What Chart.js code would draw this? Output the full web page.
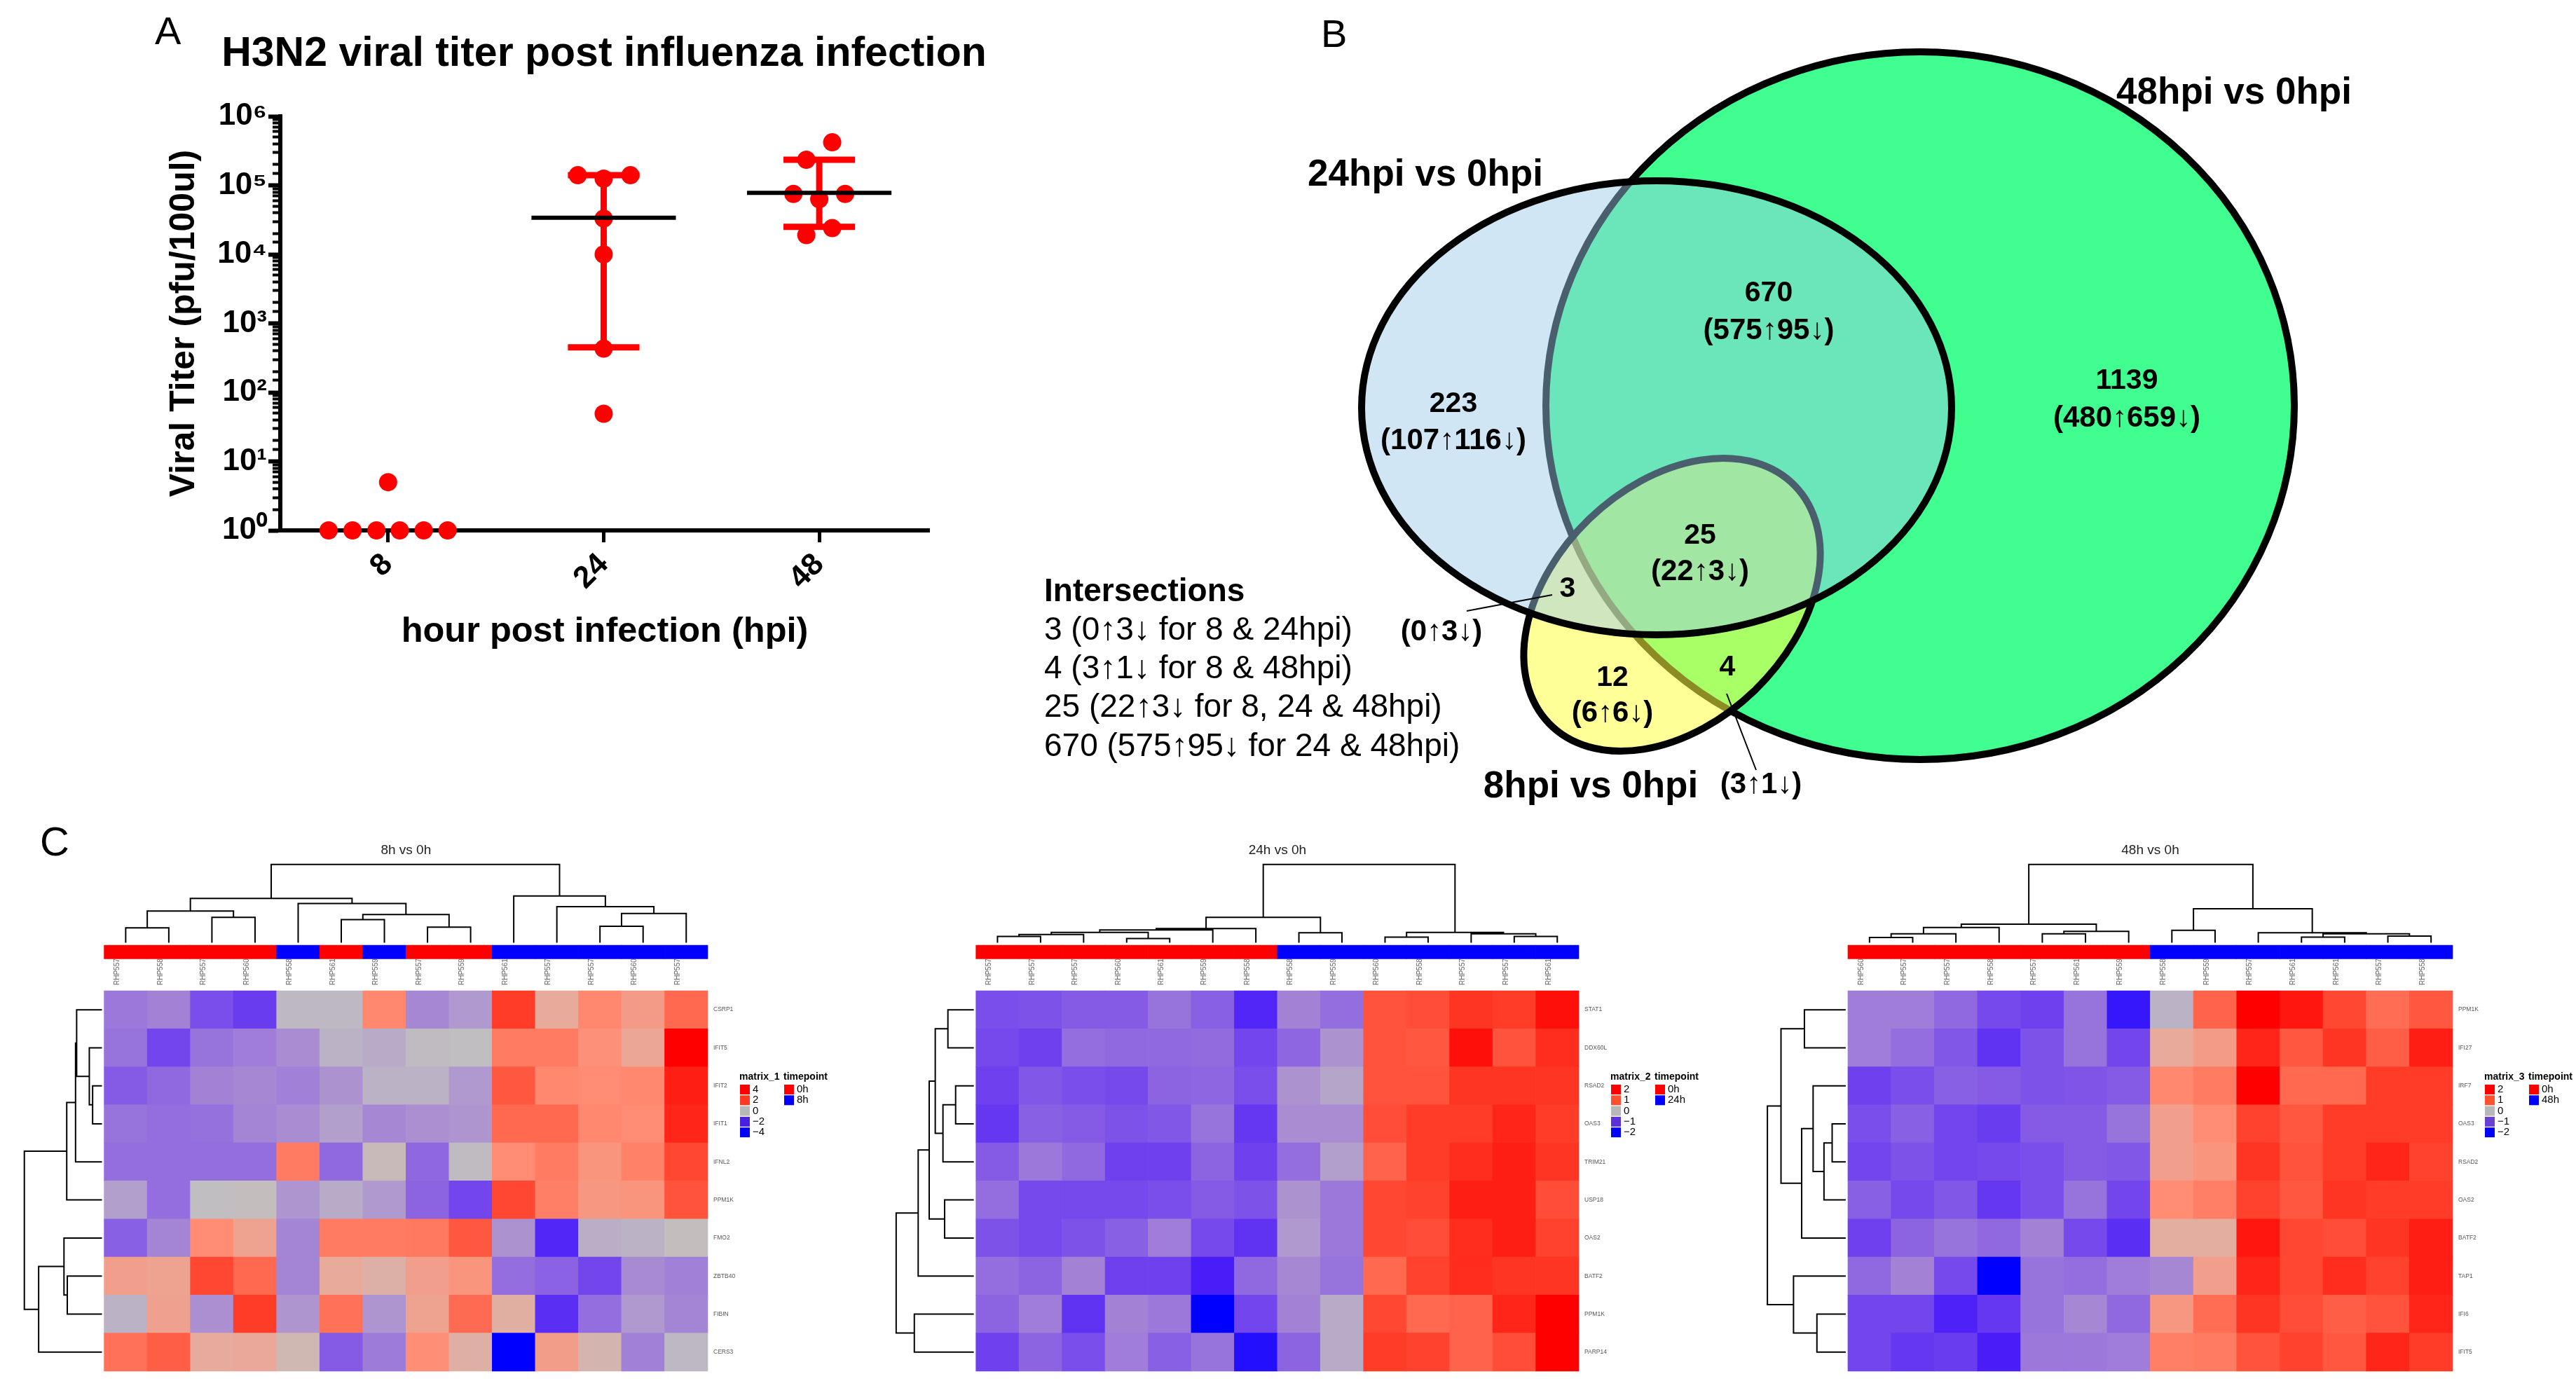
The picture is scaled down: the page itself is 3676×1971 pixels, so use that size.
<!DOCTYPE html>
<html>
<head>
<meta charset="utf-8">
<title>H3N2 figure</title>
<script src="https://cdn.jsdelivr.net/npm/chart.js@4"></script>
<style>
  html, body { margin: 0; background: #fff; }
  body { position: relative; width: 3676px; height: 1971px; overflow: hidden; }
  canvas { position: absolute; }
</style>
</head>
<body>
<canvas id="titerChart" style="left:0;top:0" width="1500" height="960"></canvas>
<canvas id="vennChart" style="left:1450px;top:0" width="2226" height="1170"></canvas>
<canvas id="heat8" style="left:0;top:1170px" width="1230" height="800"></canvas>
<canvas id="heat24" style="left:1230px;top:1170px" width="1230" height="800"></canvas>
<canvas id="heat48" style="left:2460px;top:1170px" width="1216" height="800"></canvas>
<script>
// Panel A data
const hourLabels = ['8', '24', '48'];
const dotGroup = [1, 1, 1, 1, 1, 1, 1, 2, 2, 2, 2, 2, 2, 2, 3, 3, 3, 3, 3, 3, 3];
const dotJitter = [-0.276, -0.165, -0.054, 0.054, 0.165, 0.276, 0, -0.12, 0.124, 0, 0, 0, 0, 0, 0.06, -0.06, -0.12, 0.12, 0, 0.06, -0.06];
const dotTiter = [1, 1, 1, 1, 1, 1, 5, 140000, 140000, 125000, 33000, 10000, 430, 49, 420000, 235000, 75000, 75000, 63000, 24000, 19000];
const meanTiter = [null, 34000, 78000];
const upperTiter = [null, 140000, 235000];
const lowerTiter = [null, 450, 25000];

// Panel B data
const vennCounts = ['1139', '670', '223', '25', '3', '12', '4'];
const vennUpDown = ['(480↑659↓)', '(575↑95↓)', '(107↑116↓)', '(22↑3↓)', '(0↑3↓)', '(6↑6↓)', '(3↑1↓)'];
const vennSetNames = ['48hpi vs 0hpi', '24hpi vs 0hpi', '8hpi vs 0hpi'];
const intersectionLines = ['3 (0↑3↓ for 8 & 24hpi)', '4 (3↑1↓ for 8 & 48hpi)', '25 (22↑3↓ for 8, 24 & 48hpi)', '670 (575↑95↓ for 24 & 48hpi)'];

// Panel C data
const samples8 = ['RHP5574', 'RHP5586', 'RHP5578', 'RHP5606', 'RHP5587', 'RHP5612', 'RHP5595', 'RHP5570', 'RHP5594', 'RHP5613', 'RHP5575', 'RHP5579', 'RHP5607', 'RHP5571'];
const genes8 = ['CSRP1', 'IFIT5', 'IFIT2', 'IFIT1', 'IFNL2', 'PPM1K', 'FMO2', 'ZBTB40', 'FIBIN', 'CERS3'];
const groups8 = [0, 0, 0, 0, 1, 0, 1, 0, 0, 1, 1, 1, 1, 1];
const values8 = [
  [-1.2, -1.0, -2.1, -2.5, -0.1, -0.1, 1.7, -0.9, -0.6, 3.2, 0.8, 1.7, 1.2, 2.4],
  [-1.3, -2.3, -1.3, -1.1, -0.8, -0.2, -0.3, -0.05, 0, 2.0, 2.0, 1.5, 0.9, 4],
  [-1.8, -1.5, -1.0, -0.9, -1.05, -0.7, -0.2, -0.2, -0.6, 2.7, 1.7, 1.6, 1.7, 3.6],
  [-1.3, -1.4, -1.35, -0.95, -0.8, -0.5, -0.9, -0.75, -0.65, 2.4, 2.4, 1.7, 1.6, 3.5],
  [-1.4, -1.4, -1.4, -1.4, 2.0, -1.5, 0.15, -1.55, -0.05, 1.6, 2.0, 1.4, 1.85, 3.0],
  [-0.5, -1.4, 0, 0.05, -0.65, -0.3, -0.6, -1.6, -2.3, 3.0, 1.9, 1.3, 1.4, 2.8],
  [-1.7, -0.95, 1.6, 1.0, -0.95, 2.0, 2.0, 2.05, 2.7, -0.7, -3.0, -0.25, -0.2, 0.05],
  [1.1, 1.0, 3.0, 2.4, -0.95, 0.8, 0.55, 1.1, 1.4, -1.4, -1.65, -2.3, -0.85, -1.05],
  [-0.2, 1.05, -0.75, 3.2, -0.65, 2.2, -0.65, 1.0, 2.35, 0.65, -2.8, -1.4, -0.6, -0.95],
  [2.2, 2.6, 0.75, 0.85, 0.3, -1.8, -1.15, 1.55, 0.6, -4, 1.15, 0.4, -1.05, -0.1]
];
const colMerge8 = [[-1, -2], [-3, -4], [1, 2], [-8, -9], [-6, -7], [5, 4], [-5, 6], [3, 7], [-12, -13], [9, -14], [-11, 10], [-10, 11], [8, 12]];
const colHeight8 = [42, 71, 89, 44, 65, 79, 110, 124, 46, 82, 101, 131, 219];
const rowMerge8 = [[-3, -4], [-2, 1], [-1, 2], [3, -5], [4, -6], [-8, -9], [-7, 6], [7, -10], [5, 8]];
const rowHeight8 = [17, 23, 46, 48, 64, 63, 69, 115, 141];

const samples24 = ['RHP5574', 'RHP5578', 'RHP5570', 'RHP5606', 'RHP5612', 'RHP5594', 'RHP5586', 'RHP5588', 'RHP5597', 'RHP5609', 'RHP5580', 'RHP5572', 'RHP5576', 'RHP5615'];
const genes24 = ['STAT1', 'DDX60L', 'RSAD2', 'OAS3', 'TRIM21', 'USP18', 'OAS2', 'BATF2', 'PPM1K', 'PARP14'];
const groups24 = [0, 0, 0, 0, 0, 0, 0, 1, 1, 1, 1, 1, 1, 1];
const values24 = [
  [-1.05, -1.0, -0.9, -0.9, -0.65, -0.85, -1.5, -0.5, -0.7, 1.4, 1.45, 1.65, 1.6, 1.9],
  [-1.1, -1.2, -0.7, -0.75, -0.75, -0.72, -1.15, -0.78, -0.35, 1.4, 1.35, 1.9, 1.4, 1.7],
  [-1.2, -0.95, -1.05, -1.1, -0.8, -0.78, -1.05, -0.35, -0.2, 1.4, 1.4, 1.65, 1.65, 1.65],
  [-1.3, -0.85, -0.9, -1.0, -0.95, -0.65, -1.3, -0.4, -0.4, 1.45, 1.6, 1.6, 1.75, 1.6],
  [-0.9, -0.6, -0.75, -1.2, -1.2, -0.8, -1.2, -0.7, -0.25, 1.25, 1.6, 1.7, 1.8, 1.65],
  [-0.7, -1.1, -1.1, -1.1, -1.05, -0.9, -1.0, -0.35, -0.6, 1.5, 1.55, 1.8, 1.8, 1.45],
  [-1.0, -1.1, -1.0, -0.85, -0.55, -1.1, -1.35, -0.3, -0.6, 1.5, 1.45, 1.7, 1.8, 1.55],
  [-0.7, -0.8, -0.5, -1.2, -1.2, -1.6, -0.75, -0.45, -0.65, 1.2, 1.55, 1.7, 1.65, 1.65],
  [-0.8, -0.55, -1.35, -0.5, -0.6, -2, -1.15, -0.5, -0.15, 1.5, 1.2, 1.25, 1.75, 2],
  [-1.2, -0.8, -1.05, -0.55, -0.85, -0.65, -1.8, -0.8, -0.15, 1.6, 1.55, 1.25, 1.45, 2]
];
const colMerge24 = [[-1, -2], [1, -3], [-4, -5], [2, 3], [4, -6], [5, -7], [-8, -9], [6, 7], [-10, -11], [-13, -14], [-12, 10], [9, 11], [8, 12]];
const colHeight24 = [18, 23, 12, 29, 36, 40, 28, 71, 16, 18, 25, 29, 219];
const rowMerge24 = [[-1, -2], [-3, -4], [2, -5], [1, 3], [-6, -7], [4, 5], [6, -8], [-9, -10], [7, 8]];
const rowHeight24 = [47, 33, 56, 70, 53, 81, 101, 108, 141];

const samples48 = ['RHP5606', 'RHP5578', 'RHP5574', 'RHP5586', 'RHP5570', 'RHP5612', 'RHP5594', 'RHP5589', 'RHP5598', 'RHP5577', 'RHP5616', 'RHP5610', 'RHP5573', 'RHP5581'];
const genes48 = ['PPM1K', 'IFI27', 'IRF7', 'OAS3', 'RSAD2', 'OAS2', 'BATF2', 'TAP1', 'IFI6', 'IFIT5'];
const groups48 = [0, 0, 0, 0, 0, 0, 0, 1, 1, 1, 1, 1, 1, 1];
const values48 = [
  [-0.55, -0.55, -0.75, -1.1, -1.2, -0.65, -1.7, -0.1, 1.25, 2, 1.85, 1.5, 1.15, 1.35],
  [-0.55, -0.7, -0.95, -1.35, -1.0, -0.65, -1.15, 0.4, 0.6, 1.75, 1.35, 1.65, 1.3, 1.8],
  [-1.2, -1.05, -0.85, -0.9, -1.0, -0.98, -0.9, 0.85, 1.0, 2, 1.2, 1.2, 1.6, 1.6],
  [-1.05, -0.85, -1.15, -1.25, -0.9, -0.9, -0.65, 0.55, 0.8, 1.55, 1.35, 1.6, 1.6, 1.6],
  [-1.15, -1.0, -1.15, -1.1, -1.05, -0.9, -0.95, 0.55, 0.7, 1.65, 1.4, 1.6, 1.75, 1.55],
  [-0.85, -1.1, -0.95, -1.3, -1.05, -0.65, -1.15, 0.8, 0.95, 1.55, 1.35, 1.65, 1.6, 1.6],
  [-1.2, -0.8, -0.65, -0.75, -0.5, -1.1, -1.4, 0.35, 0.35, 1.85, 1.5, 1.45, 1.65, 1.8],
  [-0.75, -0.5, -1.1, -2, -0.65, -0.7, -0.55, -0.45, 0.55, 1.75, 1.5, 1.7, 1.55, 1.8],
  [-1.15, -1.15, -1.55, -1.3, -0.65, -0.45, -0.75, 0.65, 1.15, 1.65, 1.45, 1.3, 1.4, 1.75],
  [-1.15, -1.3, -1.25, -1.6, -0.6, -0.6, -0.55, 0.95, 1.0, 1.4, 1.55, 1.35, 1.75, 1.6]
];
const colMerge48 = [[-1, -2], [1, -3], [2, -4], [-5, -6], [4, -7], [3, 5], [-8, -9], [-11, -12], [-13, -14], [8, 9], [-10, 10], [7, 11], [6, 12]];
const colHeight48 = [15, 25, 43, 25, 32, 52, 35, 16, 19, 25, 28, 95, 219];
const rowMerge48 = [[-1, -2], [-4, -5], [2, -6], [-3, 3], [4, -7], [1, 5], [-9, -10], [-8, 7], [6, 8]];
const rowHeight48 = [76, 25, 40, 60, 81, 119, 53, 96, 144];

const FONT = '"Liberation Sans", Arial, sans-serif';
Chart.defaults.font.family = FONT;
Chart.defaults.animation = false;
Chart.defaults.color = '#000';

// Free text and small swatches on top of a chart
function notesPlugin(getItems) {
    return {
        id: 'notes',
        afterDraw(chart) {
            const ctx = chart.ctx;
            ctx.save();
            ctx.textBaseline = 'middle';
            getItems(chart).forEach(item => {
                if (item.swatch) {
                    ctx.fillStyle = item.swatch;
                    ctx.fillRect(item.x, item.y, item.w, item.h);
                    return;
                }
                ctx.font = item.font;
                ctx.fillStyle = item.color || '#000';
                ctx.textAlign = item.align || 'left';
                ctx.fillText(item.text, item.x, item.y);
            });
            ctx.restore();
        }
    };
}

// ---- Panel A ----
const dotPoints = dotTiter.map((v, i) => ({ x: dotGroup[i] + dotJitter[i], y: v }));
const meanPoints = [];
const errorPoints = [];
meanTiter.forEach((m, i) => {
    if (m === null) return;
    const x = i + 1;
    meanPoints.push({ x: x - 0.335, y: m }, { x: x + 0.335, y: m }, { x: null, y: null });
    errorPoints.push(
        { x: x - 0.166, y: upperTiter[i] }, { x: x + 0.166, y: upperTiter[i] }, { x: null, y: null },
        { x: x, y: upperTiter[i] }, { x: x, y: lowerTiter[i] }, { x: null, y: null },
        { x: x - 0.166, y: lowerTiter[i] }, { x: x + 0.166, y: lowerTiter[i] }, { x: null, y: null }
    );
});

const supDigits = ['⁰', '¹', '²', '³', '⁴', '⁵', '⁶'];

new Chart(document.getElementById('titerChart'), {
    type: 'scatter',
    data: {
        datasets: [
            { data: meanPoints, showLine: true, borderColor: '#000', borderWidth: 6, pointRadius: 0, clip: false },
            { data: dotPoints, backgroundColor: '#ff0000', borderWidth: 0, pointRadius: 13, clip: false },
            { data: errorPoints, showLine: true, borderColor: '#ff0000', borderWidth: 9, pointRadius: 0, clip: false }
        ]
    },
    options: {
        responsive: false,
        devicePixelRatio: 1,
        layout: { padding: { left: 230, right: 174, top: 166, bottom: 0 } },
        plugins: {
            legend: { display: false },
            tooltip: { enabled: false }
        },
        scales: {
            x: {
                type: 'linear',
                min: 0.5,
                max: 3.51,
                z: 1,
                afterBuildTicks: s => { s.ticks = hourLabels.map((l, i) => ({ value: i + 1 })); },
                afterFit: s => { s.height = 203; },
                border: { width: 6, color: '#000' },
                grid: { drawOnChartArea: false, tickLength: 17, tickWidth: 5, tickColor: '#000' },
                ticks: {
                    callback: (v, i) => hourLabels[i],
                    font: { size: 44, weight: 'bold' },
                    minRotation: 45,
                    maxRotation: 45,
                    padding: 6
                },
                title: {
                    display: true,
                    text: 'hour post infection (hpi)',
                    font: { size: 50.5, weight: 'bold' },
                    padding: { top: 0, bottom: 28 }
                }
            },
            y: {
                type: 'logarithmic',
                position: 'left',
                min: 1,
                max: 1000000,
                z: 1,
                afterBuildTicks: s => { s.ticks = supDigits.map((d, i) => ({ value: Math.pow(10, i) })); },
                afterFit: s => { s.width = 170; },
                border: { width: 6, color: '#000' },
                grid: { drawOnChartArea: false, tickLength: 17, tickWidth: 6, tickColor: '#000' },
                ticks: {
                    callback: (v, i) => '10' + supDigits[i],
                    font: { size: 44, weight: 'bold' },
                    padding: 2
                },
                title: {
                    display: true,
                    text: 'Viral Titer (pfu/100ul)',
                    font: { size: 50, weight: 'bold' },
                    padding: { top: 3, bottom: 0 }
                }
            },
            // minor decade ticks are shorter, so they get their own axis
            yMinor: {
                type: 'logarithmic',
                position: 'left',
                weight: -1,
                min: 1,
                max: 1000000,
                afterBuildTicks: s => {
                    s.ticks = s.ticks.filter(t => Math.abs(Math.log10(t.value) - Math.round(Math.log10(t.value))) > 0.001);
                },
                afterFit: s => { s.width = 0; },
                border: { display: false },
                grid: { drawOnChartArea: false, tickLength: 11, tickWidth: 4, tickColor: '#000' },
                ticks: { display: false, autoSkip: false, callback: () => '' }
            }
        }
    },
    // title is wider than the plot, the title plugin would squeeze it
    plugins: [notesPlugin(() => [
        { text: 'A', x: 221, y: 48, font: '56px ' + FONT },
        { text: 'H3N2 viral titer post influenza infection', x: 862, y: 78, align: 'center', font: 'bold 59px ' + FONT }
    ])]
});

// ---- Panel B ----
// pixel-like scale so the figure keeps the reference's proportions
const vennEllipses = [
    { cx: 1290, cy: 579, rx: 534, ry: 505, rot: 0, fill: 'rgb(64,255,144)' },
    { cx: 936, cy: 863, rx: 244, ry: 170, rot: -44, fill: 'rgba(255,255,68,0.55)' },
    { cx: 914, cy: 582, rx: 421, ry: 324, rot: 0, fill: 'rgba(155,202,234,0.47)' }
];
const vennAnchors = [
    { x: 1585, y: 544 }, { x: 1074, y: 419 }, { x: 624, y: 577 }, { x: 976, y: 765 },
    { x: 787, y: 841 }, { x: 851, y: 968 }, { x: 1015, y: 953 }
];
const updownAnchors = [
    { x: 1585, y: 597 }, { x: 1074, y: 472 }, { x: 624, y: 629 }, { x: 976, y: 816 },
    { x: 607, y: 902 }, { x: 851, y: 1018 }, { x: 1063, y: 1120 }
];
const setNameAnchors = [{ x: 1738, y: 133 }, { x: 584, y: 250 }, { x: 820, y: 1123 }];

const vennShapes = {
    id: 'vennShapes',
    beforeDatasetsDraw(chart) {
        const { ctx, scales: { x, y } } = chart;
        vennEllipses.forEach(e => {
            ctx.beginPath();
            ctx.ellipse(x.getPixelForValue(e.cx), y.getPixelForValue(e.cy), e.rx, e.ry, e.rot * Math.PI / 180, 0, Math.PI * 2);
            ctx.fillStyle = e.fill;
            ctx.fill();
            ctx.lineWidth = 10;
            ctx.strokeStyle = '#000';
            ctx.stroke();
        });
    }
};

new Chart(document.getElementById('vennChart'), {
    type: 'scatter',
    data: {
        datasets: [
            { data: vennAnchors, pointRadius: 0 },
            { data: [{ x: 765, y: 849 }, { x: 643, y: 872 }], showLine: true, borderColor: '#000', borderWidth: 2, pointRadius: 0 },
            { data: [{ x: 1014, y: 990 }, { x: 1056, y: 1099 }], showLine: true, borderColor: '#000', borderWidth: 2, pointRadius: 0 }
        ]
    },
    options: {
        responsive: false,
        devicePixelRatio: 1,
        layout: { padding: 0 },
        plugins: { legend: { display: false }, tooltip: { enabled: false } },
        scales: {
            x: { type: 'linear', display: false, min: 0, max: 2226 },
            y: { type: 'linear', display: false, min: 0, max: 1170, reverse: true }
        }
    },
    plugins: [vennShapes, notesPlugin(chart => {
        const { x, y } = chart.scales;
        const items = [{ text: 'B', x: 435, y: 52, font: '56px ' + FONT }];
        vennCounts.forEach((t, i) => items.push({ text: t, x: x.getPixelForValue(vennAnchors[i].x), y: y.getPixelForValue(vennAnchors[i].y), align: 'center', font: 'bold 41px ' + FONT }));
        vennUpDown.forEach((t, i) => items.push({ text: t, x: x.getPixelForValue(updownAnchors[i].x), y: y.getPixelForValue(updownAnchors[i].y), align: 'center', font: 'bold 42px ' + FONT }));
        vennSetNames.forEach((t, i) => items.push({ text: t, x: x.getPixelForValue(setNameAnchors[i].x), y: y.getPixelForValue(setNameAnchors[i].y), align: 'center', font: 'bold 53px ' + FONT }));
        items.push({ text: 'Intersections', x: 40, y: 845, font: 'bold 46px ' + FONT });
        intersectionLines.forEach((t, i) => items.push({ text: t, x: 40, y: 900 + i * 55.3, font: '46px ' + FONT }));
        return items;
    })]
});

// ---- Panel C ----
const colorStops = [
    [-1, 0, 0, 255], [-0.8, 72, 29, 248], [-0.6, 110, 64, 238], [-0.4, 140, 100, 226], [-0.2, 170, 140, 210],
    [0, 192, 190, 192], [0.2, 232, 170, 155], [0.4, 255, 140, 115], [0.6, 255, 105, 80], [0.8, 255, 60, 40], [1, 255, 0, 0]
];
function heatColor(value, limit) {
    const t = Math.max(-1, Math.min(1, value / limit));
    let i = 0;
    while (i < colorStops.length - 2 && t > colorStops[i + 1][0]) i++;
    const a = colorStops[i], b = colorStops[i + 1];
    const f = (t - a[0]) / (b[0] - a[0]);
    return `rgb(${[1, 2, 3].map(k => Math.round(a[k] + (b[k] - a[k]) * f)).join(',')})`;
}

// merge/height lists work like hclust: negative = leaf, positive = earlier merge
function treeLines(merge, heights, toPoint) {
    const pos = [];
    const out = [];
    merge.forEach(([a, b], i) => {
        const pa = a < 0 ? -a - 1 : pos[a - 1];
        const pb = b < 0 ? -b - 1 : pos[b - 1];
        const ha = a < 0 ? 0 : heights[a - 1];
        const hb = b < 0 ? 0 : heights[b - 1];
        out.push(toPoint(pa, ha), toPoint(pa, heights[i]), toPoint(pb, heights[i]), toPoint(pb, hb), { x: null, y: null });
        pos[i] = (pa + pb) / 2;
    });
    return out;
}

function heatPanel(id, cfg) {
    const cells = [];
    const cellColors = [];
    cfg.values.forEach((row, r) => row.forEach((v, c) => {
        cells.push({ x: c, y: [r, r + 1] });
        cellColors.push(heatColor(v, cfg.limit));
    }));
    const annoCells = cfg.groups.map((g, c) => ({ x: c, y: [-1.195, -0.84] }));
    const annoColors = cfg.groups.map(g => (g === 0 ? '#ff0000' : '#0000ff'));
    const treeStyle = { type: 'scatter', showLine: true, borderColor: '#000', borderWidth: 2, pointRadius: 0, clip: false };
    const barStyle = { grouped: false, barPercentage: 1, categoryPercentage: 1, borderWidth: 0, clip: false };

    new Chart(document.getElementById(id), {
        type: 'bar',
        data: {
            datasets: [
                { data: cells, backgroundColor: cellColors, ...barStyle },
                { data: annoCells, backgroundColor: annoColors, ...barStyle },
                { data: treeLines(cfg.colMerge, cfg.colHeight, (p, h) => ({ x: p, y: -1.26 - h / 106.4 })), ...treeStyle },
                { data: treeLines(cfg.rowMerge, cfg.rowHeight, (p, d) => ({ x: -0.55 - d / cfg.colZoom, y: p + 0.5 })), ...treeStyle }
            ]
        },
        options: {
            responsive: false,
            devicePixelRatio: 1,
            layout: { padding: { left: cfg.left, right: cfg.right - 70, top: 0, bottom: 12.4 } },
            plugins: {
                legend: { display: false },
                tooltip: { enabled: false },
                title: {
                    display: true,
                    fullSize: false,
                    text: cfg.title,
                    color: '#222',
                    font: { size: 19, weight: 'normal' },
                    padding: { top: 32.6, bottom: 138.6 }
                }
            },
            scales: {
                x: {
                    type: 'linear',
                    position: 'top',
                    offset: false,
                    bounds: 'data',
                    min: -0.5,
                    max: 13.5,
                    afterBuildTicks: s => { s.ticks = cfg.samples.map((n, i) => ({ value: i })); },
                    afterFit: s => { s.height = 50; },
                    grid: { display: false, drawTicks: false },
                    border: { display: false },
                    ticks: {
                        autoSkip: false,
                        callback: (v, i) => cfg.samples[i],
                        color: '#666',
                        font: { size: 10 },
                        minRotation: 90,
                        maxRotation: 90,
                        padding: 8
                    }
                },
                y: {
                    type: 'linear',
                    position: 'right',
                    reverse: true,
                    bounds: 'data',
                    min: 0,
                    max: 10,
                    afterBuildTicks: s => { s.ticks = cfg.genes.map((n, i) => ({ value: i + 0.5 })); },
                    afterFit: s => { s.width = 70; },
                    grid: { display: false, drawTicks: false },
                    border: { display: false },
                    ticks: {
                        autoSkip: false,
                        callback: (v, i) => cfg.genes[i],
                        color: '#555',
                        font: { size: 8.5 },
                        padding: 8
                    }
                }
            }
        },
        plugins: [notesPlugin(chart => {
            const right = chart.chartArea.right;
            const top = 378;
            const items = cfg.letter ? [{ text: cfg.letter, x: 57, y: 35, font: '58px ' + FONT }] : [];
            items.push({ text: cfg.matrixName, x: right + 45, y: 367, font: 'bold 14px ' + FONT });
            items.push({ text: 'timepoint', x: right + 108, y: 367, font: 'bold 14px ' + FONT });
            cfg.legendValues.forEach((v, i) => {
                items.push({ swatch: cfg.legendColors[i], x: right + 46, y: top + i * 15.3, w: 14, h: 14 });
                items.push({ text: v, x: right + 64, y: top + 7 + i * 15.3, font: '15px ' + FONT });
            });
            ['0h', cfg.timeLabel].forEach((t, i) => {
                items.push({ swatch: i === 0 ? '#ff0000' : '#0000ff', x: right + 109, y: top + i * 15.3, w: 14, h: 14 });
                items.push({ text: t, x: right + 127, y: top + 7 + i * 15.3, font: '15px ' + FONT });
            });
            return items;
        })]
    });
}

heatPanel('heat8', {
    title: '8h vs 0h', letter: 'C', matrixName: 'matrix_1', timeLabel: '8h', limit: 4,
    left: 148.6, right: 220, colZoom: 78.3,
    samples: samples8, genes: genes8, groups: groups8, values: values8,
    colMerge: colMerge8, colHeight: colHeight8, rowMerge: rowMerge8, rowHeight: rowHeight8,
    legendValues: ['4', '2', '0', '−2', '−4'],
    legendColors: ['#ff0000', '#ff3a1e', '#b8b8b8', '#4a20e0', '#0000ff']
});
heatPanel('heat24', {
    title: '24h vs 0h', matrixName: 'matrix_2', timeLabel: '24h', limit: 2,
    left: 162.7, right: 207, colZoom: 78.2,
    samples: samples24, genes: genes24, groups: groups24, values: values24,
    colMerge: colMerge24, colHeight: colHeight24, rowMerge: rowMerge24, rowHeight: rowHeight24,
    legendValues: ['2', '1', '0', '−1', '−2'],
    legendColors: ['#ff0000', '#ff5030', '#b8b8b8', '#5a30d8', '#0000ff']
});
heatPanel('heat48', {
    title: '48h vs 0h', matrixName: 'matrix_3', timeLabel: '48h', limit: 2,
    left: 177, right: 176, colZoom: 79.4,
    samples: samples48, genes: genes48, groups: groups48, values: values48,
    colMerge: colMerge48, colHeight: colHeight48, rowMerge: rowMerge48, rowHeight: rowHeight48,
    legendValues: ['2', '1', '0', '−1', '−2'],
    legendColors: ['#ff0000', '#ff5030', '#b8b8b8', '#6a40d0', '#0000ff']
});
</script>
</body>
</html>
